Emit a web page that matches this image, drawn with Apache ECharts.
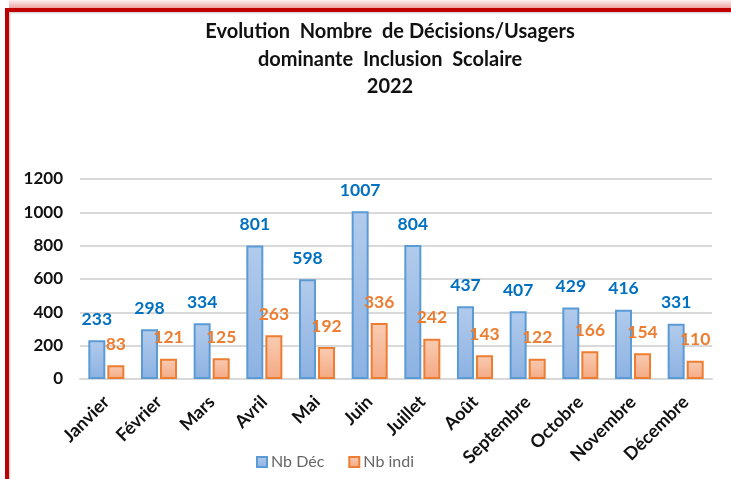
<!DOCTYPE html>
<html>
<head>
<meta charset="utf-8">
<script src="https://cdn.jsdelivr.net/npm/echarts@6/dist/echarts.min.js"></script>
<style>
  html, body { margin: 0; padding: 0; background: #ffffff; }
  #chart { width: 731px; height: 479px; }
</style>
</head>
<body>
<div id="chart"></div>
<script>
// Monthly figures for 2022
const months = ['Janvier', 'Février', 'Mars', 'Avril', 'Mai', 'Juin', 'Juillet', 'Août', 'Septembre', 'Octobre', 'Novembre', 'Décembre'];
const nbDec = [233, 298, 334, 801, 598, 1007, 804, 437, 407, 429, 416, 331];
const nbIndi = [83, 121, 125, 263, 192, 336, 242, 143, 122, 166, 154, 110];
const yTicks = { min: 0, max: 1200, interval: 200 };
const seriesNames = ['Nb Déc', 'Nb indi'];

const FONT = 'Lato, "Liberation Sans", sans-serif';

const chart = echarts.init(document.getElementById('chart'), null, { renderer: 'canvas' });

function vGrad(top, bottom) {
  return new echarts.graphic.LinearGradient(0, 0, 0, 1, [
    { offset: 0, color: top },
    { offset: 1, color: bottom }
  ]);
}

chart.setOption({
  backgroundColor: '#ffffff',
  animation: false,
  graphic: [
    // soft reddish haze above the frame
    {
      type: 'rect', z: -1,
      shape: { x: 9, y: 0, width: 740, height: 9 },
      style: { fill: new echarts.graphic.LinearGradient(0, 0, 0, 1, [
        { offset: 0, color: '#fdf0f0' },
        { offset: 1, color: '#eb9b9b' }
      ]) }
    },
    // faint inner shadow lines
    { type: 'rect', z: -1, shape: { x: 9, y: 12, width: 740, height: 1.5 }, style: { fill: '#d8d8d8' } },
    { type: 'rect', z: -1, shape: { x: 9, y: 12, width: 1.5, height: 480 }, style: { fill: '#d8d8d8' } },
    // red frame
    {
      type: 'rect', z: 0,
      shape: { x: 7, y: 10, width: 800, height: 600 },
      style: { fill: 'none', stroke: '#c00000', lineWidth: 4 }
    }
  ],
  title: {
    text: 'Evolution  Nombre  de Décisions/Usagers\ndominante  Inclusion  Scolaire\n2022',
    left: 385,
    top: 13,
    textAlign: 'center',
    textStyle: {
      fontFamily: FONT,
      fontSize: 20,
      fontWeight: 'bold',
      color: '#111111',
      lineHeight: 27.5
    }
  },
  legend: {
    data: seriesNames,
    left: 251,
    top: 449,
    itemWidth: 10,
    itemHeight: 10,
    itemGap: 24,
    icon: 'rect',
    textStyle: { fontFamily: FONT, fontSize: 16, color: '#666666', padding: [0, 0, 0, -1] }
  },
  grid: { left: 80, right: 19, top: 179, bottom: 100, containLabel: false },
  xAxis: {
    type: 'category',
    data: months,
    axisLine: { show: true, lineStyle: { color: '#d9d9d9', width: 2 } },
    axisTick: { show: false },
    axisLabel: {
      interval: 0,
      rotate: 45,
      margin: 20,
      fontFamily: FONT,
      fontSize: 18,
      fontWeight: 'bold',
      color: '#111111'
    }
  },
  yAxis: {
    type: 'value',
    min: yTicks.min,
    max: yTicks.max,
    interval: yTicks.interval,
    axisLine: { show: false },
    axisTick: { show: false },
    splitLine: { lineStyle: { color: '#d9d9d9', width: 2 } },
    axisLabel: {
      margin: 17,
      formatter: (v) => String(v),
      fontFamily: FONT,
      fontSize: 17,
      fontWeight: 'bold',
      color: '#111111'
    }
  },
  series: [
    {
      name: seriesNames[0],
      type: 'bar',
      data: nbDec,
      barWidth: 17,
      barGap: '12%',
      itemStyle: {
        color: vGrad('#b2cbec', '#8cb2e2'),
        borderColor: '#5b9bd5',
        borderWidth: 2
      },
      label: {
        show: true,
        position: 'top',
        distance: 12,
        fontFamily: FONT,
        fontSize: 17.5,
        fontWeight: 'bold',
        color: '#0070c0'
      }
    },
    {
      name: seriesNames[1],
      type: 'bar',
      data: nbIndi,
      barWidth: 17,
      itemStyle: {
        color: vGrad('#f9ccb3', '#f4a983'),
        borderColor: '#ed7d31',
        borderWidth: 2
      },
      label: {
        show: true,
        position: 'top',
        distance: 12,
        fontFamily: FONT,
        fontSize: 17.5,
        fontWeight: 'bold',
        color: '#ed7d31'
      }
    }
  ]
});
</script>
</body>
</html>
